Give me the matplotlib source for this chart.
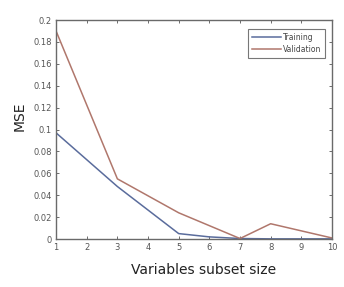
import matplotlib
matplotlib.use("Agg")
import matplotlib.pyplot as plt

x_train = [1, 3, 5, 6, 7, 8, 9, 10]
training = [0.097, 0.048, 0.005, 0.002, 0.0005, 0.0002, 0.0002, 0.0002]
x_val = [1, 3, 5, 7, 8, 10]
validation = [0.19, 0.055, 0.024, 0.0005, 0.014, 0.001]
xticks = list(range(1, 11))
yticks = [0, 0.02, 0.04, 0.06, 0.08, 0.1, 0.12, 0.14, 0.16, 0.18, 0.2]
ytick_labels = ["0", "0.02", "0.04", "0.06", "0.08", "0.1", "0.12", "0.14", "0.16", "0.18", "0.2"]

fig = plt.figure(figsize=(3.44, 2.87), dpi=100)
ax = fig.add_axes([0.163, 0.167, 0.802, 0.763])
ax.plot(x_train, training, color="#5a6c9c", lw=1.1, label="Training")
ax.plot(x_val, validation, color="#b0776c", lw=1.1, label="Validation")
ax.set_xlim(1, 10)
ax.set_ylim(0, 0.2)
ax.set_xticks(xticks)
ax.set_yticks(yticks)
ax.set_yticklabels(ytick_labels)
ax.tick_params(direction="in", length=2.5, width=0.6, labelsize=6, colors="#555555",
               top=True, right=True, pad=3)
for s in ax.spines.values():
    s.set_color("#6a6a6a")
    s.set_linewidth(1.0)
ax.set_ylabel("MSE", fontsize=10, color="#222222")
ax.yaxis.set_label_coords(-0.108, 0.56)
ax.set_xlabel("Variables subset size", fontsize=10, color="#222222")
ax.xaxis.set_label_coords(0.535, -0.11)
leg = ax.legend(loc="upper right", fontsize=5.5, frameon=True, fancybox=False,
                edgecolor="#555555", handlelength=3.8, borderpad=0.5,
                labelspacing=0.4, handletextpad=0.3, borderaxespad=0,
                bbox_to_anchor=(0.975, 0.96))
leg.get_frame().set_linewidth(0.8)
for t in leg.get_texts():
    t.set_color("#444444")
fig.savefig("out.png", dpi=100)
